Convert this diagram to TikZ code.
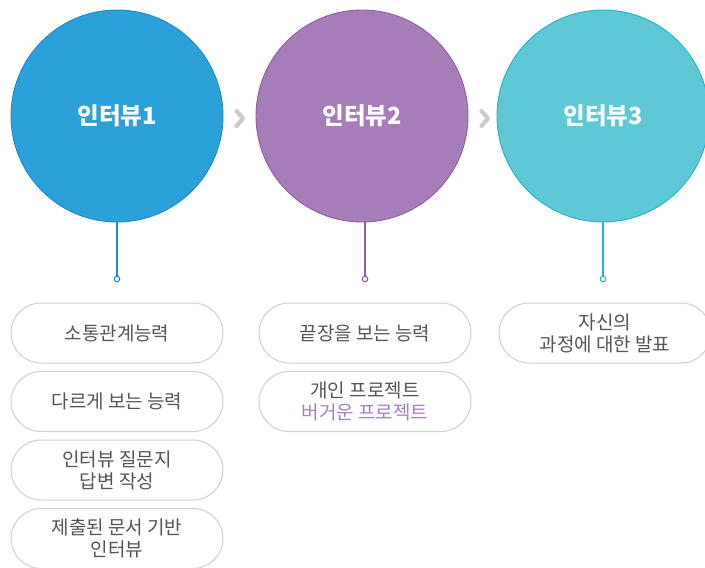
\documentclass[tikz,border=0pt]{standalone}
\usepackage{fontspec}
\setmainfont{Noto Sans CJK KR}
\usetikzlibrary{shapes.misc}
\definecolor{cblue}{HTML}{2CA0D9}
\definecolor{cblueD}{HTML}{1A8CCB}
\definecolor{cpurp}{HTML}{A77DB9}
\definecolor{cpurpD}{HTML}{8E5CA2}
\definecolor{cteal}{HTML}{5EC8D6}
\definecolor{ctealD}{HTML}{1FB5C8}
\definecolor{pillline}{HTML}{CFCFCF}
\definecolor{pilltext}{HTML}{555555}
\definecolor{chev}{HTML}{CCCCCC}
\definecolor{ptext}{HTML}{A97EC1}
\tikzset{
  bigcircle/.style={circle, minimum size=212pt, inner sep=0pt, line width=0.9pt,
    text=white, font=\fontsize{23.5}{28}\selectfont\bfseries},
  pill/.style={rounded rectangle, draw=pillline, line width=1pt, fill=white,
    minimum width=212pt, minimum height=60pt, inner sep=0pt, text=pilltext,
    align=center, font=\fontsize{19}{22}\selectfont},
  dot/.style={circle, draw, fill=white, line width=1.1pt, minimum size=5.5pt, inner sep=0pt},
  stem/.style={line width=1.2pt},
  chevron/.style={draw=chev, line width=4.2pt, line cap=round, line join=round}
}
\begin{document}
\begin{tikzpicture}[x=1pt,y=-1pt]
\useasboundingbox (0,0) rectangle (705,568);
\clip (0,0) rectangle (705,568);
% circles
\node[bigcircle, fill=cblue, draw=cblueD] (c1) at (117,116) {인터뷰1};
\node[bigcircle, fill=cpurp, draw=cpurpD] (c2) at (362,116) {인터뷰2};
\node[bigcircle, fill=cteal, draw=ctealD] (c3) at (603,116) {인터뷰3};
% stems and dots
\node[dot, draw=cblueD] (d1) at (117,279) {};
\node[dot, draw=cpurpD] (d2) at (365,279) {};
\node[dot, draw=ctealD] (d3) at (603,279) {};
\draw[stem, cblueD] (c1.south) -- (d1.north);
\draw[stem, cpurpD] (c2.south -| d2) -- (d2.north);
\draw[stem, ctealD] (c3.south) -- (d3.north);
% chevrons
\coordinate (a1t) at (236.5,111);
\coordinate (a1m) at (243,118.5);
\coordinate (a1b) at (236.5,126);
\draw[chevron] (a1t) -- (a1m) -- (a1b);
\coordinate (a2t) at (481.5,111);
\coordinate (a2m) at (488,118.5);
\coordinate (a2b) at (481.5,126);
\draw[chevron] (a2t) -- (a2m) -- (a2b);
% pills column 1
\node[pill] (p11) at (117,333) {소통관계능력};
\node[pill] (p12) at (117,401.5) {다르게 보는 능력};
\node[pill] (p13) at (117,470) {인터뷰 질문지\\답변 작성};
\node[pill] (p14) at (117,538.5) {제출된 문서 기반\\인터뷰};
% pills column 2
\node[pill] (p21) at (365,333) {끝장을 보는 능력};
\node[pill] (p22) at (365,401.5) {개인 프로젝트\\\textcolor{ptext}{버거운 프로젝트}};
% pills column 3
\node[pill] (p31) at (605,333) {자신의\\과정에 대한 발표};
\end{tikzpicture}
\end{document}
